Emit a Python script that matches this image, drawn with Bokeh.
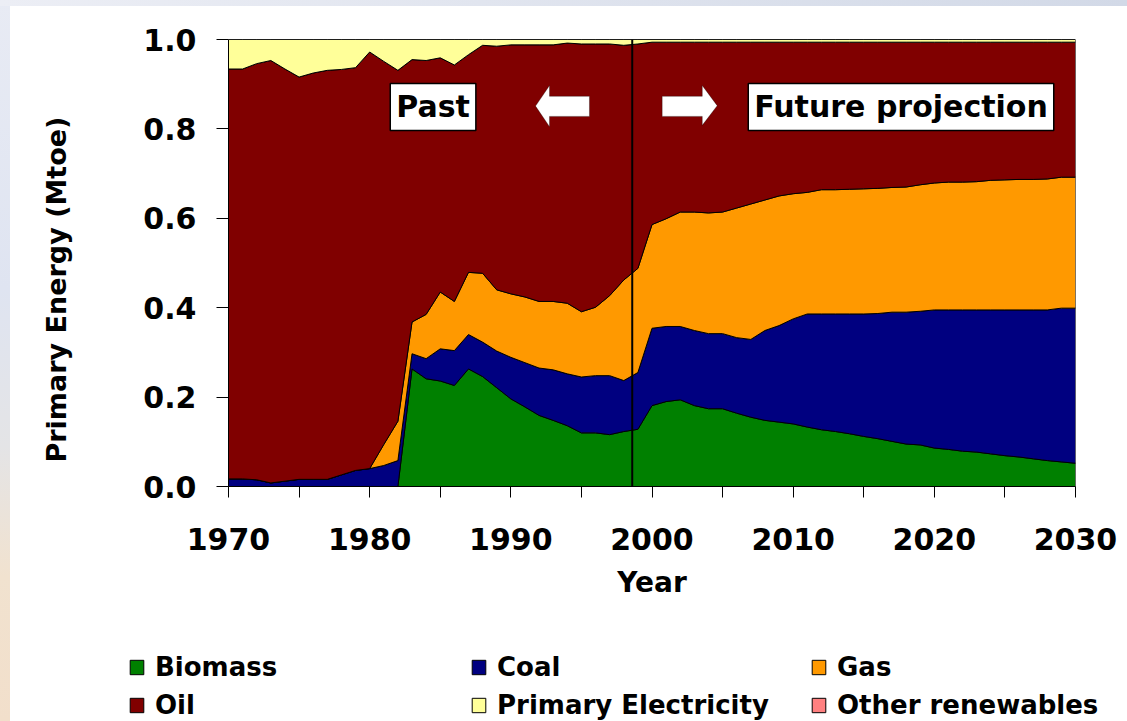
import math
import numpy as np
from bokeh.plotting import figure
from bokeh.layouts import column, row
from bokeh.models import (Range1d, FixedTicker, NumeralTickFormatter, Legend, LegendItem,
                          Label, PolyAnnotation, Arrow, InlineStyleSheet)
from bokeh.embed import file_html
from bokeh.resources import INLINE

# ---- data: share of primary energy by source, 1970-2030 ----
years = list(range(1970, 2031))

biomass = [0, 0, 0, 0, 0, 0, 0, 0, 0, 0, 0, 0, 0,
           0.263, 0.241, 0.236, 0.226, 0.263, 0.246, 0.221, 0.196, 0.178, 0.159,
           0.148, 0.136, 0.120, 0.120, 0.116, 0.123, 0.128,
           0.181, 0.190, 0.194, 0.181, 0.174, 0.174, 0.164, 0.155, 0.148, 0.144,
           0.140, 0.133, 0.127, 0.123, 0.118, 0.112, 0.107, 0.101, 0.095, 0.093,
           0.086, 0.083, 0.079, 0.077, 0.073, 0.069, 0.066, 0.062, 0.058, 0.055, 0.052]

coal = [0.017, 0.017, 0.015, 0.008, 0.012, 0.016, 0.016, 0.016, 0.026, 0.036, 0.040, 0.047, 0.058,
        0.034, 0.045, 0.072, 0.078, 0.077, 0.077, 0.082, 0.093, 0.099, 0.106,
        0.113, 0.116, 0.125, 0.128, 0.132, 0.114, 0.127,
        0.173, 0.168, 0.164, 0.168, 0.168, 0.168, 0.169, 0.174, 0.201, 0.216,
        0.235, 0.253, 0.259, 0.263, 0.268, 0.274, 0.280, 0.289, 0.295, 0.299,
        0.309, 0.312, 0.316, 0.318, 0.322, 0.326, 0.329, 0.333, 0.337, 0.344, 0.347]

gas = [0, 0, 0, 0, 0, 0, 0, 0, 0, 0, 0, 0.047, 0.088,
       0.071, 0.099, 0.127, 0.110, 0.139, 0.154, 0.137, 0.142, 0.147, 0.149,
       0.153, 0.158, 0.146, 0.153, 0.179, 0.225, 0.233,
       0.232, 0.241, 0.256, 0.265, 0.270, 0.272, 0.290, 0.303, 0.292, 0.290,
       0.280, 0.272, 0.278, 0.278, 0.279, 0.280, 0.280, 0.279, 0.280, 0.283,
       0.284, 0.286, 0.286, 0.287, 0.290, 0.291, 0.292, 0.292, 0.293, 0.293, 0.293]

oil = [0.917, 0.917, 0.931, 0.945, 0.922, 0.900, 0.909, 0.915, 0.907, 0.901, 0.932, 0.857, 0.785,
       0.587, 0.568, 0.524, 0.529, 0.487, 0.510, 0.545, 0.557, 0.564, 0.574,
       0.574, 0.582, 0.599, 0.589, 0.563, 0.525, 0.502,
       0.408, 0.395, 0.380, 0.380, 0.382, 0.380, 0.371, 0.362, 0.353, 0.344,
       0.339, 0.336, 0.330, 0.330, 0.329, 0.328, 0.327, 0.325, 0.324, 0.319,
       0.315, 0.313, 0.313, 0.312, 0.309, 0.308, 0.307, 0.307, 0.306, 0.302, 0.302]

primary_electricity = [0.066, 0.066, 0.054, 0.047, 0.066, 0.084, 0.075, 0.069, 0.067, 0.063, 0.028, 0.049, 0.069,
                       0.045, 0.047, 0.041, 0.057, 0.034, 0.013, 0.015, 0.012, 0.012, 0.012,
                       0.012, 0.008, 0.010, 0.010, 0.010, 0.013, 0.010,
                       0.006, 0.006, 0.006, 0.006, 0.006, 0.006, 0.006, 0.006, 0.006, 0.006,
                       0.006, 0.006, 0.006, 0.006, 0.006, 0.006, 0.006, 0.006, 0.006, 0.006,
                       0.006, 0.006, 0.006, 0.006, 0.006, 0.006, 0.006, 0.006, 0.006, 0.006, 0.006]

other_renewables = [0.0] * len(years)

series_names = ["Biomass", "Coal", "Gas", "Oil", "Primary Electricity", "Other renewables"]
series_values = [biomass, coal, gas, oil, primary_electricity, other_renewables]
series_colors = ["#008000", "#000080", "#FF9900", "#800000", "#FFFF99", "#FF8080"]

y_ticks = [0.0, 0.2, 0.4, 0.6, 0.8, 1.0]
x_label_ticks = [1970, 1980, 1990, 2000, 2010, 2020, 2030]
x_minor_ticks = [1975, 1985, 1995, 2005, 2015, 2025]
divider_year = 1998.6

FONT = "DejaVu Sans"

# ---- main stacked-area chart ----
p = figure(width=1027, height=640,
           x_range=Range1d(1970, 2030), y_range=Range1d(0, 1),
           output_backend="svg", toolbar_location=None,
           min_border_left=128, min_border_right=52,
           min_border_top=39, min_border_bottom=154)
p.border_fill_color = None
p.background_fill_color = "white"
p.outline_line_color = None
p.xgrid.visible = False
p.ygrid.visible = False

renderers = {}
base = np.zeros(len(years))
for name, vals, color in zip(series_names, series_values, series_colors):
    top = base + np.asarray(vals, dtype=float)
    xs = years + years[::-1]
    ys = list(top) + list(base[::-1])
    renderers[name] = p.patch(xs, ys, fill_color=color, line_color="black", line_width=1)
    base = top

# past / projection divider
p.add_layout(Arrow(start=None, end=None, x_start=divider_year, y_start=0.0,
                   x_end=divider_year, y_end=1.0, line_color="black", line_width=2))

# block arrows pointing back and forward in time
left_arrow_x = [1991.75, 1992.74, 1992.74, 1995.57, 1995.57, 1992.74, 1992.74]
left_arrow_y = [0.851, 0.897, 0.873, 0.873, 0.828, 0.828, 0.805]
right_arrow_x = [2004.62, 2003.56, 2003.56, 2000.72, 2000.72, 2003.56, 2003.56]
right_arrow_y = [0.852, 0.897, 0.873, 0.873, 0.828, 0.828, 0.808]
for ax, ay in [(left_arrow_x, left_arrow_y), (right_arrow_x, right_arrow_y)]:
    p.add_layout(PolyAnnotation(xs=ax, ys=ay, fill_color="white", fill_alpha=1.0,
                                line_color="black", line_width=1))

# boxed captions
for text, cx in [("Past", 1984.49), ("Future projection", 2017.64)]:
    p.add_layout(Label(x=cx, y=0.849, text=text, text_align="center", text_baseline="middle",
                       text_font=FONT, text_font_style="bold", text_font_size="30px",
                       text_color="black", background_fill_color="white",
                       border_line_color="black", border_line_width=1.5, padding=6))

xa = p.xaxis[0]
xa.ticker = FixedTicker(ticks=x_label_ticks, minor_ticks=x_minor_ticks)
xa.axis_line_color = "black"
xa.major_tick_line_color = "black"
xa.minor_tick_line_color = "black"
xa.major_tick_in = 0
xa.major_tick_out = 11
xa.minor_tick_in = 0
xa.minor_tick_out = 11
xa.major_label_standoff = 30
xa.major_label_text_font = FONT
xa.major_label_text_font_style = "bold"
xa.major_label_text_font_size = "30px"
xa.major_label_text_color = "black"
xa.axis_label = "Year"
xa.axis_label_standoff = 13
xa.axis_label_text_font = FONT
xa.axis_label_text_font_style = "bold"
xa.axis_label_text_font_size = "28px"
xa.axis_label_text_color = "black"

ya = p.yaxis[0]
ya.ticker = FixedTicker(ticks=y_ticks)
ya.formatter = NumeralTickFormatter(format="0.0")
ya.axis_line_color = "black"
ya.major_tick_line_color = "black"
ya.minor_tick_line_color = None
ya.major_tick_in = 0
ya.major_tick_out = 12
ya.major_label_standoff = 20
ya.major_label_text_font = FONT
ya.major_label_text_font_style = "bold"
ya.major_label_text_font_size = "30px"
ya.major_label_text_color = "black"

# ---- y-axis title strip ----
title_fig = figure(width=100, height=640, x_range=Range1d(0, 100), y_range=Range1d(0, 640),
                   output_backend="svg", toolbar_location=None, min_border=0,
                   x_axis_location=None, y_axis_location=None)
title_fig.border_fill_color = None
title_fig.background_fill_color = None
title_fig.outline_line_color = None
title_fig.grid.visible = False
title_fig.add_layout(Label(x=56, y=282, text="Primary Energy (Mtoe)", angle=math.pi / 2,
                           text_align="center", text_baseline="middle",
                           text_font=FONT, text_font_style="bold", text_font_size="27px",
                           text_color="black"))

# ---- legend strip: three columns of two entries ----
legend_fig = figure(width=1127, height=81, x_range=Range1d(0, 1), y_range=Range1d(0, 1),
                    output_backend="svg", toolbar_location=None, min_border=0,
                    x_axis_location=None, y_axis_location=None)
legend_fig.border_fill_color = None
legend_fig.background_fill_color = None
legend_fig.outline_line_color = None
legend_fig.grid.visible = False

# swatch glyphs for the legend only; they sit outside the strip's visible range
swatch_x = [-2.0, -1.5, -1.5]
swatch_y = [-2.0, -2.0, -1.5]
swatches = {}
for name, color in zip(series_names, series_colors):
    swatches[name] = legend_fig.patch(swatch_x, swatch_y, fill_color=color,
                                      line_color="black", line_width=1)

legend_columns = [(["Biomass", "Oil"], 128), (["Coal", "Primary Electricity"], 470),
                  (["Gas", "Other renewables"], 810)]
for names, x_off in legend_columns:
    lg = Legend(items=[LegendItem(label=n, renderers=[swatches[n]]) for n in names],
                location=(x_off, 1), orientation="vertical",
                glyph_width=17, glyph_height=18, label_standoff=10,
                label_height=30, spacing=8, padding=0, margin=0,
                border_line_color=None, background_fill_alpha=0,
                label_text_font=FONT, label_text_font_style="bold",
                label_text_font_size="26px", label_text_color="black")
    legend_fig.add_layout(lg)

page = column(row(title_fig, p, spacing=0), legend_fig, spacing=0,
              stylesheets=[InlineStyleSheet(css="""
:host {
  background:
    linear-gradient(#ffffff, #ffffff) 10px 6px / 100% 100% no-repeat,
    linear-gradient(to right, #eceef5, #d2d9e7) 0 0 / 100% 6px no-repeat,
    linear-gradient(to bottom, #e8ebf4 0%, #dfe4f1 40%, #e4e4e6 62%, #f1e2cf 80%, #f2dfcb 100%);
}
""")])

open("out.html", "w").write(file_html(page, INLINE))
